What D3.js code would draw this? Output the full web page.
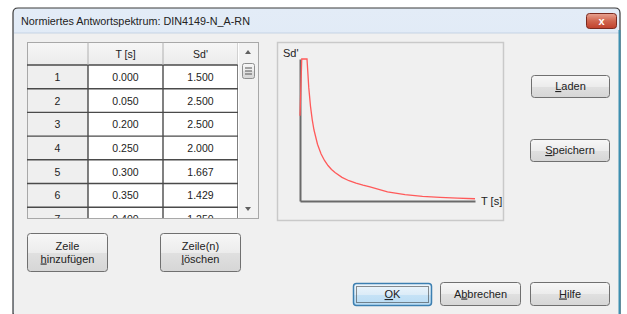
<!DOCTYPE html>
<html><head><meta charset="utf-8">
<script src="https://cdn.jsdelivr.net/npm/d3@7"></script>
<style>
html,body{margin:0;padding:0;background:#fff;}
svg{display:block;}
text{font-family:"Liberation Sans",Arial,sans-serif;fill:#222;}
</style></head>
<body>
<svg id="c" width="627" height="314"></svg>
<script>
// ---- data ----
const title = "Normiertes Antwortspektrum: DIN4149-N_A-RN";
const periods = [0.000, 0.050, 0.200, 0.250, 0.300, 0.350, 0.400, 0.500, 0.600, 0.700, 0.800, 0.900, 1.000, 1.200, 1.400, 1.600, 1.800, 2.000, 2.500, 3.000, 3.500, 4.000, 4.500, 5.000];
const spectrum = [1.500, 2.500, 2.500, 2.000, 1.667, 1.429, 1.250, 1.000, 0.833, 0.714, 0.625, 0.556, 0.500, 0.417, 0.357, 0.313, 0.278, 0.250, 0.160, 0.111, 0.082, 0.063, 0.049, 0.040];
const columnHeaders = ["", "T [s]", "Sd'"];
const xLabel = "T [s]";
const yLabel = "Sd'";
const visibleRows = 7;

const svg = d3.select("#c");
const defs = svg.append("defs");
function grad(id, stops){
  const g = defs.append("linearGradient").attr("id", id).attr("x1",0).attr("y1",0).attr("x2",0).attr("y2",1);
  stops.forEach(s => g.append("stop").attr("offset", s[0]).attr("stop-color", s[1]));
}
grad("gTitle", [[0,"#e3ecf7"],[1,"#d3e1f1"]]);
grad("gBtn", [[0,"#f7f7f7"],[0.5,"#ececec"],[0.51,"#e0e0e0"],[1,"#d6d6d6"]]);
grad("gOk", [[0,"#eef6fc"],[0.5,"#dcecf8"],[0.51,"#c6e2f6"],[1,"#b8dcf4"]]);
grad("gClose", [[0,"#e8a493"],[0.5,"#d0654f"],[1,"#c0402c"]]);
grad("gHead", [[0,"#f6f6f6"],[1,"#ebebeb"]]);

// ---- window frame ----
svg.append("path")
  .attr("d", "M13,314 L13,13 Q13,8 18,8 L615,8 Q620,8 620,13 L620,314 Z")
  .attr("fill", "url(#gTitle)").attr("stroke", "#3a3a3a").attr("stroke-width", 1.2);
svg.append("rect").attr("x", 14).attr("y", 33).attr("width", 605).attr("height", 290).attr("fill", "#f0f0f0");
svg.append("line").attr("x1", 14).attr("x2", 619).attr("y1", 33).attr("y2", 33).attr("stroke", "#c5d3e4");
svg.append("line").attr("x1", 619.5).attr("x2", 619.5).attr("y1", 30).attr("y2", 314).attr("stroke", "#3e8fb0").attr("stroke-width", 2);
svg.append("text").attr("x", 21).attr("y", 25).attr("font-size", 10.8).attr("textLength", 229).attr("fill", "#3a3a3a").text(title);
// close button
svg.append("rect").attr("x", 586.5).attr("y", 13.5).attr("width", 30).attr("height", 15).attr("rx", 3)
  .attr("fill", "url(#gClose)").attr("stroke", "#7a2a20");
svg.append("text").attr("x", 601.5).attr("y", 25).attr("text-anchor", "middle").attr("font-size", 11)
  .attr("font-weight", "bold").style("fill", "#fff").text("x");

// ---- table ----
const tX = [27, 88, 163, 238, 258];
const headTop = 42, headBot = 65, rowH = 23.7, tableBot = 218;
const tbl = svg.append("g");
tbl.append("rect").attr("x", tX[0] + 0.5).attr("y", headTop + 0.5).attr("width", tX[4] - tX[0]).attr("height", tableBot - headTop)
  .attr("fill", "#fff").attr("stroke", "#a8a8a8");
const clip = defs.append("clipPath").attr("id", "tclip");
clip.append("rect").attr("x", tX[0]).attr("y", headTop).attr("width", tX[3] - tX[0]).attr("height", tableBot - headTop);
const body = tbl.append("g").attr("clip-path", "url(#tclip)");
body.append("rect").attr("x", tX[0] + 1).attr("y", headTop + 1).attr("width", tX[3] - tX[0] - 1).attr("height", headBot - headTop - 1).attr("fill", "url(#gHead)");
body.append("rect").attr("x", tX[0] + 1).attr("y", headBot).attr("width", tX[1] - tX[0] - 1).attr("height", tableBot - headBot).attr("fill", "#efefef");
const rows = d3.range(visibleRows);
rows.forEach(i => {
  const y0 = headBot + i * rowH;
  body.append("line").attr("x1", tX[0]).attr("x2", tX[3]).attr("y1", y0).attr("y2", y0).attr("stroke", "#4a4a4a").attr("stroke-width", 1.4);
  const cy = y0 + rowH / 2 + 4;
  body.append("text").attr("x", (tX[0] + tX[1]) / 2).attr("y", cy).attr("text-anchor", "middle").attr("font-size", 10.5).text(i + 1);
  body.append("text").attr("x", (tX[1] + tX[2]) / 2).attr("y", cy).attr("text-anchor", "middle").attr("font-size", 10.5).attr("fill", "#444").text(periods[i].toFixed(3));
  body.append("text").attr("x", (tX[2] + tX[3]) / 2).attr("y", cy).attr("text-anchor", "middle").attr("font-size", 10.5).attr("fill", "#333").text(spectrum[i].toFixed(3));
});
[tX[1], tX[2], tX[3]].forEach(x => {
  body.append("line").attr("x1", x).attr("x2", x).attr("y1", headTop).attr("y2", headBot).attr("stroke", "#b0b0b0");
  body.append("line").attr("x1", x).attr("x2", x).attr("y1", headBot).attr("y2", tableBot).attr("stroke", "#4a4a4a").attr("stroke-width", 1.4);
});
columnHeaders.forEach((h, k) => {
  body.append("text").attr("x", (tX[k] + tX[k + 1]) / 2).attr("y", 58).attr("text-anchor", "middle").attr("font-size", 10.5).attr("fill", "#444").text(h);
});
// scrollbar
const sb = tbl.append("g");
sb.append("rect").attr("x", tX[3] + 1).attr("y", headTop + 1).attr("width", tX[4] - tX[3] - 1).attr("height", tableBot - headTop - 1).attr("fill", "#f2f2f2");
sb.append("path").attr("d", "M245,54 L251,54 L248,50 Z").attr("fill", "#606060");
sb.append("path").attr("d", "M245,207 L251,207 L248,211 Z").attr("fill", "#606060");
sb.append("rect").attr("x", 242.5).attr("y", 63.5).attr("width", 12).attr("height", 15).attr("rx", 2).attr("fill", "url(#gBtn)").attr("stroke", "#8e8f8f");
[68, 71, 74].forEach(y => sb.append("line").attr("x1", 245).attr("x2", 252).attr("y1", y).attr("y2", y).attr("stroke", "#555"));

// ---- chart panel ----
svg.append("rect").attr("x", 277.5).attr("y", 42.5).attr("width", 226).attr("height", 178).attr("fill", "#f0f0f0").attr("stroke", "#c9c9c9").attr("stroke-width", 1.5);
const x = d3.scaleLinear().domain([0, 5]).range([300, 475]);
const y = d3.scaleLinear().domain([0, 2.5]).range([201, 59]);
const ax = svg.append("g").attr("transform", `translate(0,${y(0)})`).call(d3.axisBottom(x).ticks(0).tickSizeOuter(0));
const ay = svg.append("g").attr("transform", `translate(${x(0)},0)`).call(d3.axisLeft(y).ticks(0).tickSizeOuter(0));
[ax, ay].forEach(a => a.select(".domain").attr("stroke", "#6a6a6a").attr("stroke-width", 2));
svg.append("path").datum(periods.map((t, i) => [t, spectrum[i]]))
  .attr("d", d3.line().x(d => x(d[0])).y(d => y(d[1])))
  .attr("fill", "none").attr("stroke", "#ff5a5a").attr("stroke-width", 1.3);
svg.append("text").attr("x", 283).attr("y", 57).attr("font-size", 11).attr("fill", "#333").text(yLabel);
svg.append("text").attr("x", 481).attr("y", 205).attr("font-size", 11).attr("fill", "#333").text(xLabel);

// ---- buttons ----
function button(x0, y0, w, h, lines, opts = {}) {
  const g = svg.append("g");
  g.append("rect").attr("x", x0 + 0.5).attr("y", y0 + 0.5).attr("width", w).attr("height", h).attr("rx", 3)
    .attr("fill", opts.def ? "url(#gOk)" : "url(#gBtn)").attr("stroke", opts.def ? "#3c7fb1" : "#707070").attr("stroke-width", opts.def ? 1.5 : 1);
  if (opts.def) {
    g.append("rect").attr("x", x0 + 3.5).attr("y", y0 + 3.5).attr("width", w - 6).attr("height", h - 6)
      .attr("fill", "none").attr("stroke", "#222").attr("stroke-dasharray", "1,1");
  }
  const n = lines.length;
  lines.forEach((ln, i) => {
    const ty = y0 + h / 2 + 4 + (i - (n - 1) / 2) * 13;
    const t = g.append("text").attr("x", x0 + w / 2 + 0.5).attr("y", ty).attr("text-anchor", "middle").attr("font-size", 11);
    const k = ln[1];
    if (k >= 0) {
      t.append("tspan").text(ln[0].slice(0, k));
      t.append("tspan").attr("text-decoration", "underline").text(ln[0].slice(k, k + 1));
      t.append("tspan").text(ln[0].slice(k + 1));
    } else t.text(ln[0]);
  });
}
button(531, 75, 78, 22, [["Laden", 0]]);
button(530, 139, 79, 22, [["Speichern", 0]]);
button(27, 233, 80, 38, [["Zeile", -1], ["hinzufügen", 0]]);
button(160, 233, 80, 38, [["Zeile(n)", -1], ["löschen", 0]]);
button(353, 283, 78, 22, [["OK", 0]], {def: true});
button(440, 282, 80, 23, [["Abbrechen", 1]]);
button(530, 282, 79, 23, [["Hilfe", 0]]);
</script>
</body></html>
